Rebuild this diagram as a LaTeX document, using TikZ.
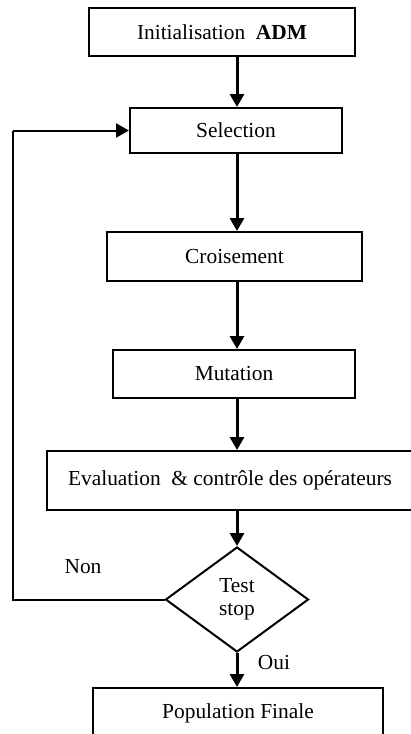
\documentclass[tikz,border=0pt]{standalone}
\usepackage{fontspec}
\setmainfont{Liberation Serif}
\usetikzlibrary{shapes.geometric,arrows.meta}
\begin{document}
\begin{tikzpicture}[x=0.5pt,y=-0.5pt,
  etape/.style={draw,line width=1pt,inner sep=0pt,font=\fontsize{10.7}{11.5}\selectfont},
  fleche/.style={line width=1.5pt,-{Triangle[length=6.5pt,width=7pt]}},
  etiq/.style={font=\fontsize{10.7}{11.5}\selectfont}]
\useasboundingbox (0,0) rectangle (411,734);

\node[etape,minimum width=133pt,minimum height=24pt] (init) at (222,32) {Initialisation\ \ \textbf{ADM}};
\node[etape,minimum width=106pt,minimum height=22.5pt] (sel) at (236,130.5) {Selection};
\node[etape,minimum width=127.5pt,minimum height=24.5pt] (crois) at (234.5,256.5) {Croisement};
\node[etape,minimum width=121pt,minimum height=24pt] (mut) at (234,374) {Mutation};
\node[etape,minimum width=183pt,minimum height=29.5pt] (eval) at (230,480.5) {Evaluation\ \ \& contrôle des opérateurs};
\node[etape,diamond,align=center,minimum width=71.5pt,minimum height=52.5pt] (test) at (237,599.5) {Test\\stop};
\node[etape,minimum width=145pt,minimum height=25pt] (pop) at (238,713) {Population Finale};

\draw[fleche] (init.south -| test) -- (sel.north -| test);
\draw[fleche] (sel.south -| test) -- (crois.north -| test);
\draw[fleche] (crois.south -| test) -- (mut.north -| test);
\draw[fleche] (mut.south -| test) -- (eval.north -| test);
\draw[fleche] (eval.south -| test) -- (test.north);
\draw[fleche] (test.south) -- (pop.north -| test);

% boucle de retour
\coordinate (coin) at (13,596);
\draw[line width=1pt] (test.west) -- (coin |- test.west) -- (coin |- sel.west);
\draw[fleche,line width=1pt] (coin |- sel.west) -- (sel.west);

\node[etiq] (non) at (83,567) {Non};
\node[etiq] (oui) at (274,663) {Oui};

\end{tikzpicture}
\end{document}
